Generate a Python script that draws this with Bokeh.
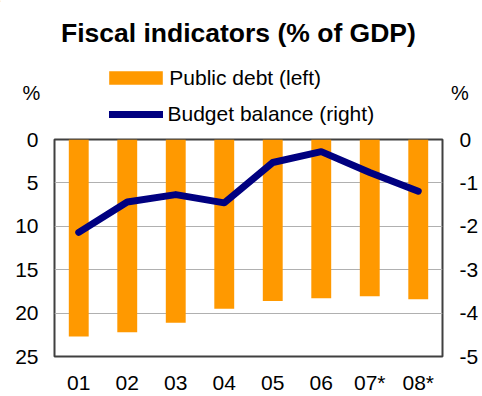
from bokeh.plotting import figure
from bokeh.models import (FactorRange, Range1d, LinearAxis, FixedTicker, Label,
                          Legend, LegendItem, ColumnDataSource, PrintfTickFormatter)
from bokeh.embed import file_html
from bokeh.resources import INLINE

years = ["01", "02", "03", "04", "05", "06", "07*", "08*"]
debt = [22.7, 22.2, 21.1, 19.5, 18.6, 18.3, 18.05, 18.4]
balance = [-2.14, -1.44, -1.27, -1.46, -0.53, -0.28, -0.76, -1.19]
left_ticks = [0, 5, 10, 15, 20, 25]
right_ticks = [0, -1, -2, -3, -4, -5]

FONT = "Liberation Sans"
ORANGE = "#FF9900"
NAVY = "#000080"
TOP_H = 128

# ---------- header figure: title, legend, unit labels ----------
top = figure(width=482, height=TOP_H, x_range=Range1d(0, 482),
             y_range=Range1d(TOP_H, 0), output_backend="svg",
             toolbar_location=None, x_axis_location=None, y_axis_location=None,
             min_border_left=0, min_border_right=0, min_border_top=0,
             min_border_bottom=0)
top.outline_line_color = None
top.grid.grid_line_color = None

top.add_layout(Label(x=237.9, y=32.7, text="Fiscal indicators (% of GDP)",
                     text_font=FONT, text_font_size="26.5px", text_font_style="bold",
                     text_color="black", text_align="center",
                     text_baseline="alphabetic"))
for xx in [31, 459.5]:
    top.add_layout(Label(x=xx, y=92, text="%", text_font=FONT,
                         text_font_size="20px", text_color="black",
                         text_align="center", text_baseline="middle"))

dummy_bar = top.vbar(x=[-100], top=[0], bottom=[1], width=1,
                     fill_color=ORANGE, line_color=None)
dummy_line = top.line(x=[-100, -99], y=[0, 0], line_color=NAVY, line_width=7,
                      line_cap="round")

leg1 = Legend(items=[LegendItem(label="Public debt (left)", renderers=[dummy_bar])],
              location=(102.3, TOP_H - 89.7), glyph_width=67, glyph_height=17,
              label_height=24, label_standoff=0, padding=0, margin=0,
              border_line_color=None, background_fill_alpha=0,
              label_text_font=FONT, label_text_font_size="21px",
              label_text_color="black")
leg2 = Legend(items=[LegendItem(label="Budget balance (right)", renderers=[dummy_line])],
              location=(108.5, TOP_H - 125.5), glyph_width=54, glyph_height=24,
              label_height=24, label_standoff=5, padding=0, margin=0,
              border_line_color=None, background_fill_alpha=0,
              label_text_font=FONT, label_text_font_size="21px",
              label_text_color="black")
top.add_layout(leg1)
top.add_layout(leg2)

# ---------- main chart ----------
src = ColumnDataSource(dict(x=years, debt=debt, bal=balance))

p = figure(x_range=FactorRange(factors=years, range_padding=0),
           y_range=Range1d(25, 0), width=482, height=396 - TOP_H,
           output_backend="svg", toolbar_location=None,
           min_border_left=54, min_border_right=40,
           min_border_top=139 - TOP_H, min_border_bottom=38)
p.extra_y_ranges = {"bal": Range1d(-5, 0)}

p.vbar(x="x", top=0, bottom="debt", width=0.41, source=src,
       fill_color=ORANGE, line_color=None)
p.line(x="x", y="bal", source=src, y_range_name="bal",
       line_color=NAVY, line_width=7, line_join="round", line_cap="round")

p.outline_line_color = "#404040"
p.outline_line_width = 2
p.xgrid.grid_line_color = None
p.ygrid.grid_line_color = "#B0B0B0"
p.ygrid.grid_line_width = 1
p.ygrid.ticker = FixedTicker(ticks=[5, 10, 15, 20])

p.yaxis.ticker = FixedTicker(ticks=left_ticks)
right = LinearAxis(y_range_name="bal", ticker=FixedTicker(ticks=right_ticks),
                   formatter=PrintfTickFormatter(format="%d"))
p.add_layout(right, "right")

for ax in [p.xaxis[0], p.yaxis[0], right]:
    ax.axis_line_color = None
    ax.major_tick_line_color = None
    ax.minor_tick_line_color = None
    ax.major_tick_in = 0
    ax.major_tick_out = 0
    ax.minor_tick_out = 0
    ax.major_label_text_font = FONT
    ax.major_label_text_font_size = "21px"
    ax.major_label_text_color = "black"
p.yaxis[0].major_label_standoff = 16
right.major_label_standoff = 17
p.xaxis[0].major_label_standoff = 14

open("out.html", "w").write(file_html([top, p], INLINE))
